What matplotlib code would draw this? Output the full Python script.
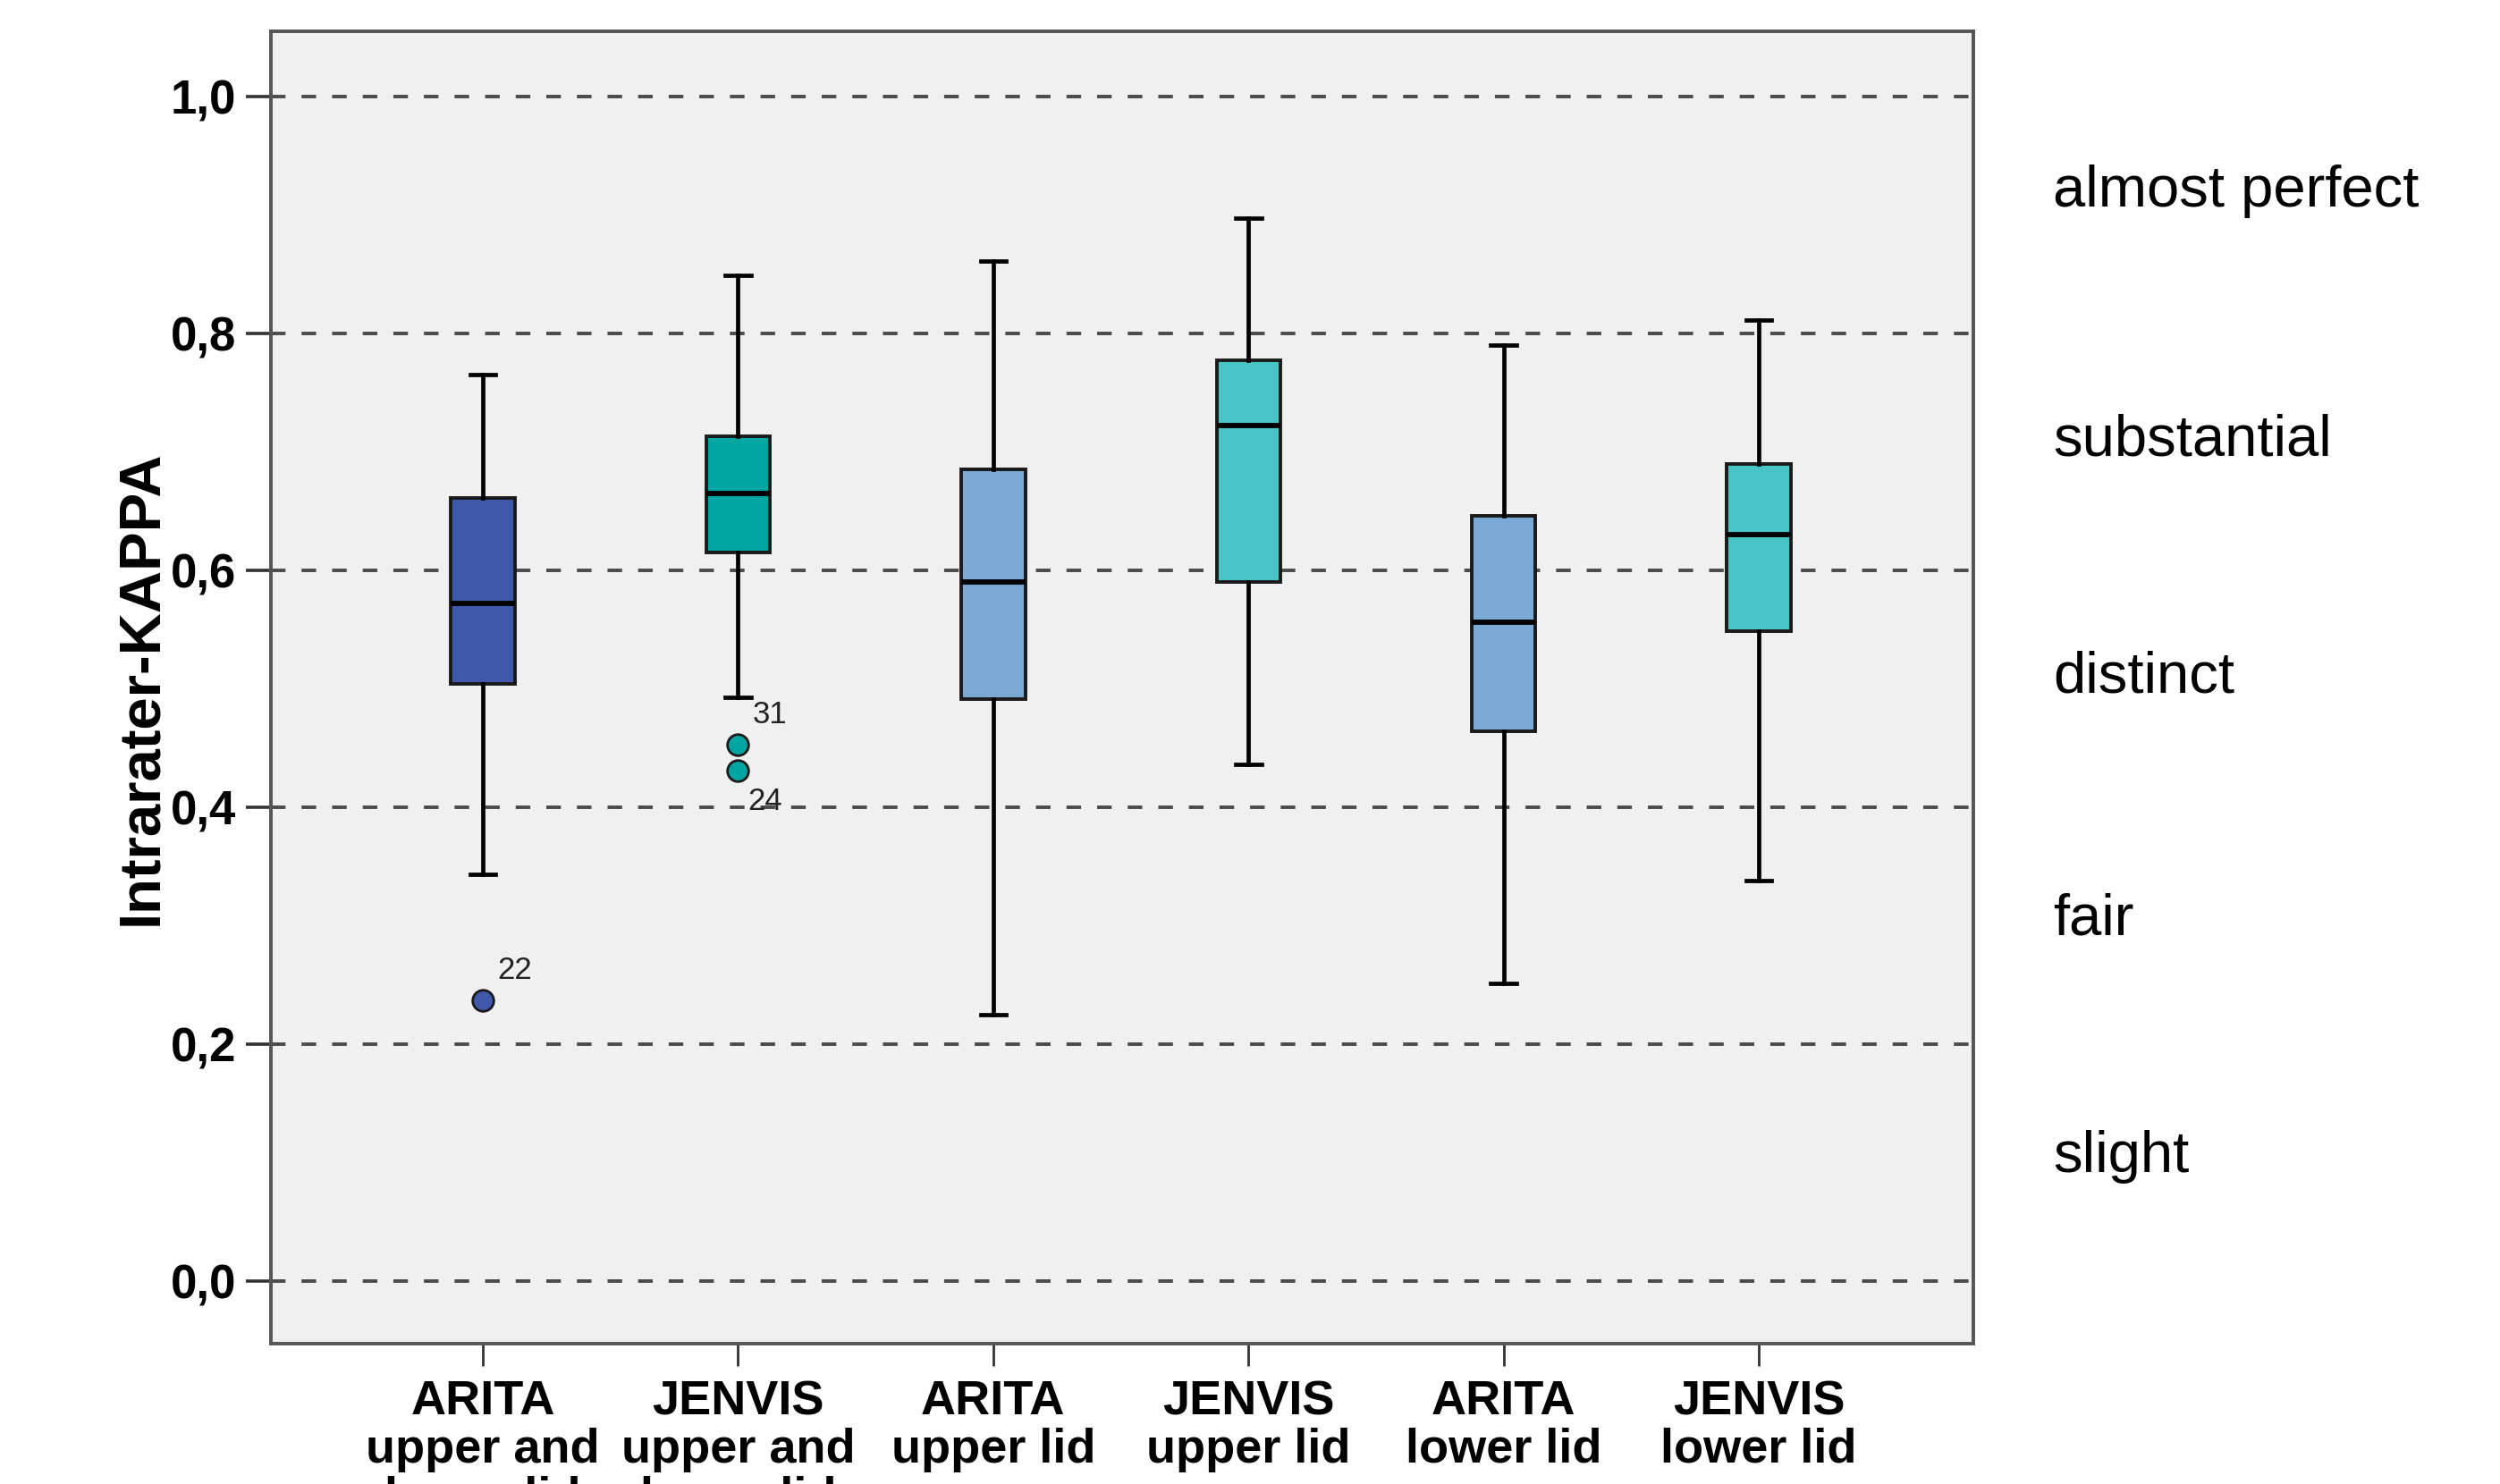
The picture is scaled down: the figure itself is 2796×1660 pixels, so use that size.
import matplotlib
matplotlib.use("Agg")
import matplotlib.pyplot as plt

plt.rcParams['font.family'] = ['Liberation Sans', 'DejaVu Sans']

# groups on the x axis
groups = ["ARITA\nupper and\nlower lid", "JENVIS\nupper and\nlower lid",
          "ARITA\nupper lid", "JENVIS\nupper lid",
          "ARITA\nlower lid", "JENVIS\nlower lid"]

# box statistics
whisker_low = [0.343, 0.493, 0.225, 0.436, 0.251, 0.338]
q1 = [0.504, 0.615, 0.491, 0.590, 0.464, 0.549]
medians = [0.572, 0.665, 0.590, 0.722, 0.556, 0.630]
q3 = [0.661, 0.713, 0.685, 0.777, 0.646, 0.690]
whisker_high = [0.765, 0.849, 0.861, 0.897, 0.790, 0.811]

# outliers: (group index, value, case number)
outlier_group = [0, 1, 1]
outlier_value = [0.237, 0.453, 0.431]
outlier_case = ["22", "31", "24"]

box_colors = ["#3F58AA", "#00A6A1", "#7BA9D6", "#48C3C6", "#7BA9D6", "#48C3C6"]

y_ticks = [0.0, 0.2, 0.4, 0.6, 0.8, 1.0]
y_tick_labels = ["0,0", "0,2", "0,4", "0,6", "0,8", "1,0"]

kappa_labels = ["slight", "fair", "distinct", "substantial", "almost perfect"]
kappa_label_y = [0.105, 0.305, 0.51, 0.71, 0.92]

fig = plt.figure(figsize=(27.96, 16.60), dpi=100)
ax = fig.add_axes([0.1084, 0.0946, 0.6809, 0.8843])
ax.set_facecolor("#F0F0F0")

# dashed reference lines
for yv in y_ticks:
    ax.axhline(yv, color="#4a4a4a", lw=2.8, linestyle=(0, (4.2, 4.6)), zorder=1)

stats = []
for i in range(len(groups)):
    fl = [v for g, v in zip(outlier_group, outlier_value) if g == i]
    stats.append(dict(whislo=whisker_low[i], q1=q1[i], med=medians[i],
                      q3=q3[i], whishi=whisker_high[i], fliers=fl))

positions = list(range(1, len(groups) + 1))
bp = ax.bxp(stats, positions=positions, widths=0.25, capwidths=0.1,
            patch_artist=True, showfliers=True,
            boxprops=dict(edgecolor="#1a1a1a", linewidth=2.8),
            medianprops=dict(color="black", linewidth=4.2),
            whiskerprops=dict(color="black", linewidth=3.4),
            capprops=dict(color="black", linewidth=3.4),
            flierprops=dict(marker="o", markersize=17, markeredgecolor="#1a1a1a",
                            markeredgewidth=2.0))
for patch, c in zip(bp["boxes"], box_colors):
    patch.set_facecolor(c)
    patch.set_zorder(2)
for fl, i in zip(bp["fliers"], range(len(groups))):
    fl.set_markerfacecolor(box_colors[i])

# case numbers next to outliers
offsets = [(12, 24), (12, 24), (8, -25)]
for g, v, lab, off in zip(outlier_group, outlier_value, outlier_case, offsets):
    ax.annotate(lab, (positions[g], v), xytext=off, textcoords="offset points",
                ha="left", va="center", fontsize=25, color="#222222")

ax.set_xlim(0.17, 6.84)
ax.set_ylim(-0.0528, 1.055)

ax.set_yticks(y_ticks)
ax.set_yticklabels(y_tick_labels, fontsize=38, fontweight="bold")
ax.set_xticks(positions)
ax.set_xticklabels(groups, fontsize=39, fontweight="bold", linespacing=1.09)
ax.tick_params(axis="y", length=20, width=2.6, pad=8, color="#333333")
ax.tick_params(axis="x", length=18, width=2.0, pad=11, color="#333333")

ax.set_ylabel("Intrarater-KAPPA", fontsize=47, fontweight="bold", labelpad=2)

for s in ax.spines.values():
    s.set_color("#555555")
    s.set_linewidth(2.8)

for lab, yv in zip(kappa_labels, kappa_label_y):
    ax.text(1.047, yv, lab, transform=ax.get_yaxis_transform(), fontsize=47,
            ha="left", va="center", clip_on=False)

fig.savefig("out.png", dpi=100)
